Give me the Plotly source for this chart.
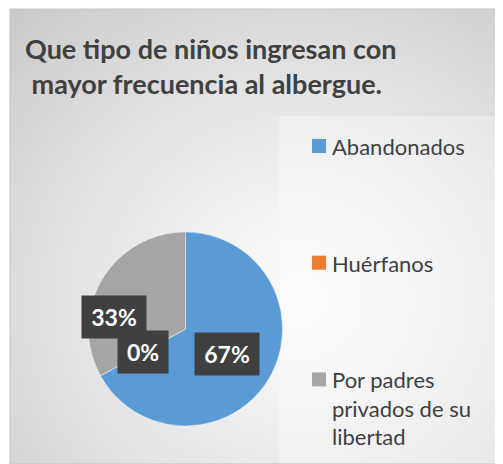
import base64
import math
import struct
import zlib

import numpy as np
import plotly.graph_objects as go

# datos del grafico
categorias = ["Abandonados", "Huérfanos", "Por padres privados de su libertad"]
porcentajes = [67, 0, 33]
etiquetas_leyenda = ["Abandonados", "Huérfanos", "Por padres<br>privados de su<br>libertad"]
colores = ["#5B9BD5", "#ED7D31", "#A5A5A5"]
titulo = "Que tipo de niños ingresan con<br>\u00a0mayor frecuencia al albergue."

# the page body keeps its default 8px margin, so the figure is drawn 8px in
OFF = 8
W, H = 503 - OFF, 464 - OFF
FONT = "Lato"
TXT = "#404040"


def px_x(x):
    # screen px -> paper
    return (x - OFF) / W


def px_y(y):
    return 1 - (y - OFF) / H


def gradient_png(w, h, cx, cy):
    """radial gray gradient like the excel chart area"""
    yy, xx = np.mgrid[0:h, 0:w]
    d = np.sqrt((xx - cx) ** 2 + ((yy - cy) * 1.05) ** 2)
    d = d / d.max()
    v = 251 - 50 * d ** 1.25
    img = np.clip(v, 0, 255).astype(np.uint8)
    raw = b"".join(b"\x00" + np.repeat(img[r][:, None], 3, axis=1).tobytes() for r in range(h))

    def chunk(tag, data):
        c = tag + data
        return struct.pack(">I", len(data)) + c + struct.pack(">I", zlib.crc32(c) & 0xffffffff)

    png = b"\x89PNG\r\n\x1a\n"
    png += chunk(b"IHDR", struct.pack(">IIBBBBB", w, h, 8, 2, 0, 0, 0))
    png += chunk(b"IDAT", zlib.compress(raw, 9))
    png += chunk(b"IEND", b"")
    return "data:image/png;base64," + base64.b64encode(png).decode()


# chart area box (screen px)
area_x0, area_y0 = 10, 9
area_w, area_h = 503 - area_x0, 464 - area_y0

# pie placement (screen px)
cx, cy, R = 185.5, 329, 97

fig = go.Figure()
fig.add_trace(go.Pie(
    labels=categorias,
    values=porcentajes,
    sort=False,
    direction="clockwise",
    rotation=0,
    marker=dict(colors=colores, line=dict(color="rgba(255,255,255,0.6)", width=0.6)),
    textinfo="none",
    hoverinfo="label+percent",
    showlegend=False,
    domain=dict(x=[px_x(cx - R), px_x(cx + R)], y=[px_y(cy + R), px_y(cy - R)]),
))

# data labels: dark boxes at slice mid angles
shift = {2: (-30, 13)}
total = sum(porcentajes)
acum = 0
annotations = []
for i, v in enumerate(porcentajes):
    mid = (acum + v / 2) / total * 2 * math.pi
    acum += v
    dx, dy = shift.get(i, (0, 0))
    x = cx + 0.5 * R * math.sin(mid) + dx
    y = cy - 0.5 * R * math.cos(mid) + dy
    txt = f"{round(v / total * 100)}%"
    annotations.append(dict(
        x=px_x(x), y=px_y(y), xref="paper", yref="paper",
        text=f"<b>{txt}</b>", showarrow=False,
        font=dict(family=FONT, size=23, color="white"),
        bgcolor="#404040", width=14 * len(txt) + 22, height=42,
        borderpad=0, xanchor="center", yanchor="middle",
    ))

# manual legend
shapes = []
leg_y0, leg_step = 146, 116.7
for i, (lab, col) in enumerate(zip(etiquetas_leyenda, colores)):
    yc = leg_y0 + i * leg_step
    shapes.append(dict(type="rect", xref="paper", yref="paper",
                       x0=px_x(312), x1=px_x(326), y0=px_y(yc + 7), y1=px_y(yc - 7),
                       fillcolor=col, line=dict(width=0)))
    annotations.append(dict(
        x=px_x(330), y=px_y(yc - 15), xref="paper", yref="paper",
        text=lab, showarrow=False, align="left",
        font=dict(family=FONT, size=22, color=TXT),
        xanchor="left", yanchor="top",
    ))

# legend box and chart border
shapes.insert(0, dict(type="rect", xref="paper", yref="paper", layer="below",
                      x0=px_x(279), x1=1, y0=0, y1=px_y(116),
                      fillcolor="rgba(255,255,255,0.3)", line=dict(width=0)))
shapes.append(dict(type="rect", xref="paper", yref="paper",
                   x0=px_x(area_x0), x1=1, y0=0, y1=px_y(area_y0),
                   line=dict(color="#c4c4c4", width=1), fillcolor="rgba(0,0,0,0)"))

fig.update_layout(
    width=W, height=H,
    margin=dict(l=0, r=0, t=0, b=0),
    paper_bgcolor="white",
    title=dict(text=f"<b>{titulo}</b>", x=px_x(25), xanchor="left",
               y=1 - (59 - OFF) / H, yanchor="top", yref="container",
               font=dict(family=FONT, size=27, color=TXT)),
    images=[dict(source=gradient_png(area_w, area_h, 290, 291),
                 xref="paper", yref="paper", x=px_x(area_x0), y=px_y(area_y0),
                 sizex=area_w / W, sizey=area_h / H, sizing="stretch",
                 xanchor="left", yanchor="top", layer="below")],
    shapes=shapes,
    annotations=annotations,
)

fig.write_html("out.html")
